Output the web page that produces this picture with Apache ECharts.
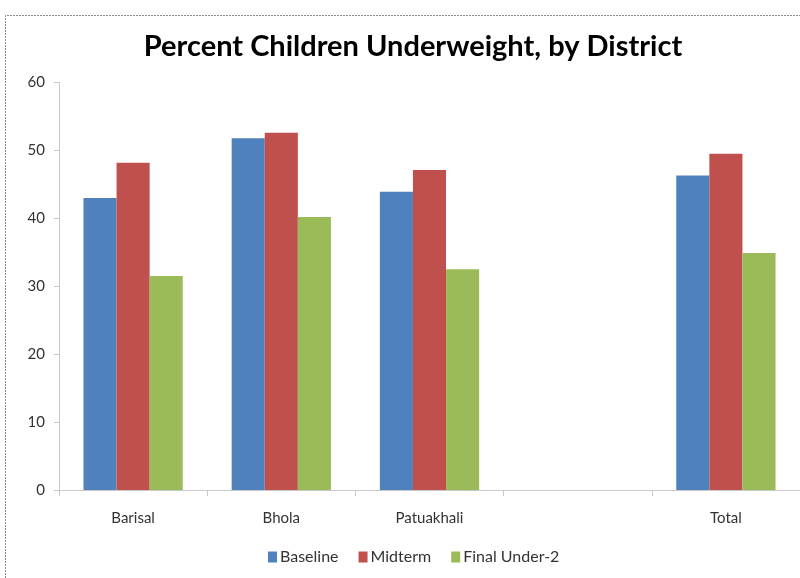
<!DOCTYPE html>
<html>
<head>
<meta charset="utf-8">
<script src="https://cdn.jsdelivr.net/npm/echarts@6/dist/echarts.min.js"></script>
<style>
  html, body { margin: 0; padding: 0; background: #fff; }
  #chart { width: 800px; height: 578px; }
</style>
</head>
<body>
<div id="chart"></div>
<script>
// Percent of children underweight per district, three survey rounds
const districts = ['Barisal', 'Bhola', 'Patuakhali', '', 'Total'];
const baseline = [43.0, 51.8, 43.9, null, 46.3];
const midterm = [48.2, 52.6, 47.1, null, 49.5];
const finalUnder2 = [31.5, 40.2, 32.5, null, 34.9];
const seriesNames = ['Baseline', 'Midterm', 'Final Under-2'];
const seriesColors = ['#4F81BD', '#C0504D', '#9BBB59'];

const font = 'Lato, "Open Sans", sans-serif';
const chart = echarts.init(document.getElementById('chart'), null, { renderer: 'canvas' });

function barSeries(name, data, color) {
  return {
    name: name,
    type: 'bar',
    data: data,
    barGap: '0%',
    barCategoryGap: '33%',
    itemStyle: { color: color },
    emphasis: { disabled: true }
  };
}

chart.setOption({
  animation: false,
  backgroundColor: '#ffffff',
  title: {
    text: 'Percent Children Underweight, by District',
    left: 408,
    textAlign: 'center',
    top: 27,
    textStyle: { fontFamily: font, fontWeight: 'bold', fontSize: 29, color: '#000' }
  },
  graphic: [
    {
      type: 'polyline',
      shape: { points: [[5.5, 578], [5.5, 15.5], [800, 15.5]] },
      style: { stroke: '#8c8c8c', lineWidth: 1, fill: null, lineDash: [2, 1] },
      silent: true
    }
  ],
  legend: {
    bottom: 8,
    left: 263,
    itemWidth: 9,
    itemHeight: 11,
    itemGap: 20,
    icon: 'rect',
    textStyle: { fontFamily: font, fontSize: 16, color: '#333', padding: [0, 0, 0, -2] },
    data: seriesNames
  },
  grid: { left: 59, right: 0, top: 82.5, bottom: 88 },
  xAxis: {
    type: 'category',
    data: districts,
    axisLine: { lineStyle: { color: '#c8c8c8' } },
    axisTick: { show: true, length: 6, lineStyle: { color: '#c8c8c8' } },
    axisLabel: { margin: 21, fontFamily: font, fontSize: 15, color: '#333' }
  },
  yAxis: {
    type: 'value',
    min: 0,
    max: 60,
    interval: 10,
    axisLine: { show: true, lineStyle: { color: '#c8c8c8' } },
    axisTick: { show: true, length: 5, lineStyle: { color: '#c8c8c8' } },
    splitLine: { show: false },
    axisLabel: { margin: 14, fontFamily: font, fontSize: 15, color: '#333' }
  },
  series: [
    barSeries(seriesNames[0], baseline, seriesColors[0]),
    barSeries(seriesNames[1], midterm, seriesColors[1]),
    barSeries(seriesNames[2], finalUnder2, seriesColors[2])
  ]
});
</script>
</body>
</html>
